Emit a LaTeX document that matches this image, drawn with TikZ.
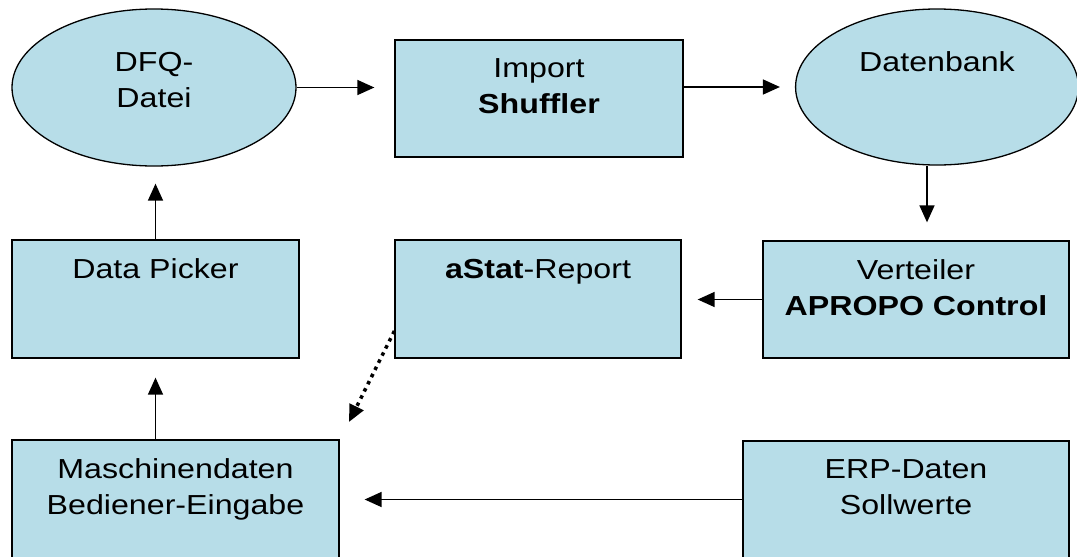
\documentclass[tikz,border=0pt]{standalone}
\usepackage{fontspec}
\setmainfont{Liberation Sans}[FakeStretch=1.17]
\usetikzlibrary{shapes.geometric, arrows.meta}
\definecolor{boxblue}{RGB}{183,221,232}
\newcommand{\boxtext}[3]{\parbox[c][#2][t]{#1}{\centering\vspace*{19pt}#3}}
\newcommand{\ovaltext}[1]{\parbox[c][71pt][t]{200pt}{\centering #1}}

\begin{document}
\begin{tikzpicture}[x = 1pt, y = -1pt, font = \fontsize{27.5}{36}\selectfont]
	\useasboundingbox (0, 0) rectangle (1077, 557);

	% Styles for the boxes, ovals and arrows
	\tikzset{box/.style = {draw, fill = boxblue, line width = 1.3pt, inner sep = 0pt},
		oval/.style = {box, ellipse, minimum width = 284pt, minimum height = 157pt},
		flow/.style = {-{Triangle[length = 17pt, width = 15pt]}, line width = 1.5pt}}

	% Draw the ovals
	\node[oval] (dfq) at (154, 87.5) {\ovaltext{DFQ-\\Datei}};
	\node[oval, minimum width = 268pt, minimum height = 156pt] (db) at (937, 87) {\ovaltext{Datenbank}};

	% Draw the boxes
	\node[box] (import) at (539, 98.5) {\boxtext{288pt}{117pt}{Import\\\textbf{Shuffler}}};
	\node[box] (verteiler) at (916, 299.5) {\boxtext{306pt}{117pt}{Verteiler\\\textbf{APROPO Control}}};
	\node[box] (astat) at (538, 299) {\boxtext{286pt}{118pt}{\textbf{aStat}-Report}};
	\node[box] (picker) at (155.5, 299) {\boxtext{287pt}{118pt}{Data Picker}};
	\node[box] (masch) at (175.5, 502.5) {\boxtext{327pt}{125pt}{Maschinendaten\\Bediener-Eingabe}};
	\node[box] (erp) at (906, 503) {\boxtext{326pt}{124pt}{ERP-Daten\\Sollwerte}};

	% Draw the data flow
	\draw[flow, shorten > = 20pt] (dfq.east) -- (dfq.east -| import.west);
	\draw[flow, shorten > = 15pt] (import.east |- db.west) -- (db.west);
	\draw[flow, shorten > = 18pt] ([xshift = -10pt]db.south) -- ([xshift = -10pt]db.south |- verteiler.north);
	\draw[flow, shorten > = 16pt] (verteiler.west) -- (verteiler.west -| astat.east);
	\draw[flow, shorten > = 17pt] (picker.north) -- (picker.north |- dfq.south);
	\draw[flow, shorten > = 19pt] (masch.north -| picker.south) -- (picker.south);
	\draw[flow, shorten > = 25pt] ([yshift = 3.5pt]erp.west) -- ([yshift = 3.5pt]erp.west -| masch.east);

	% Dotted link from the report
	\coordinate (report end) at (349, 422);
	\draw[flow, line width = 3.5pt, dash pattern = on 3.5pt off 4.5pt] ([yshift = -32pt]astat.west) -- (report end);
\end{tikzpicture}
\end{document}
